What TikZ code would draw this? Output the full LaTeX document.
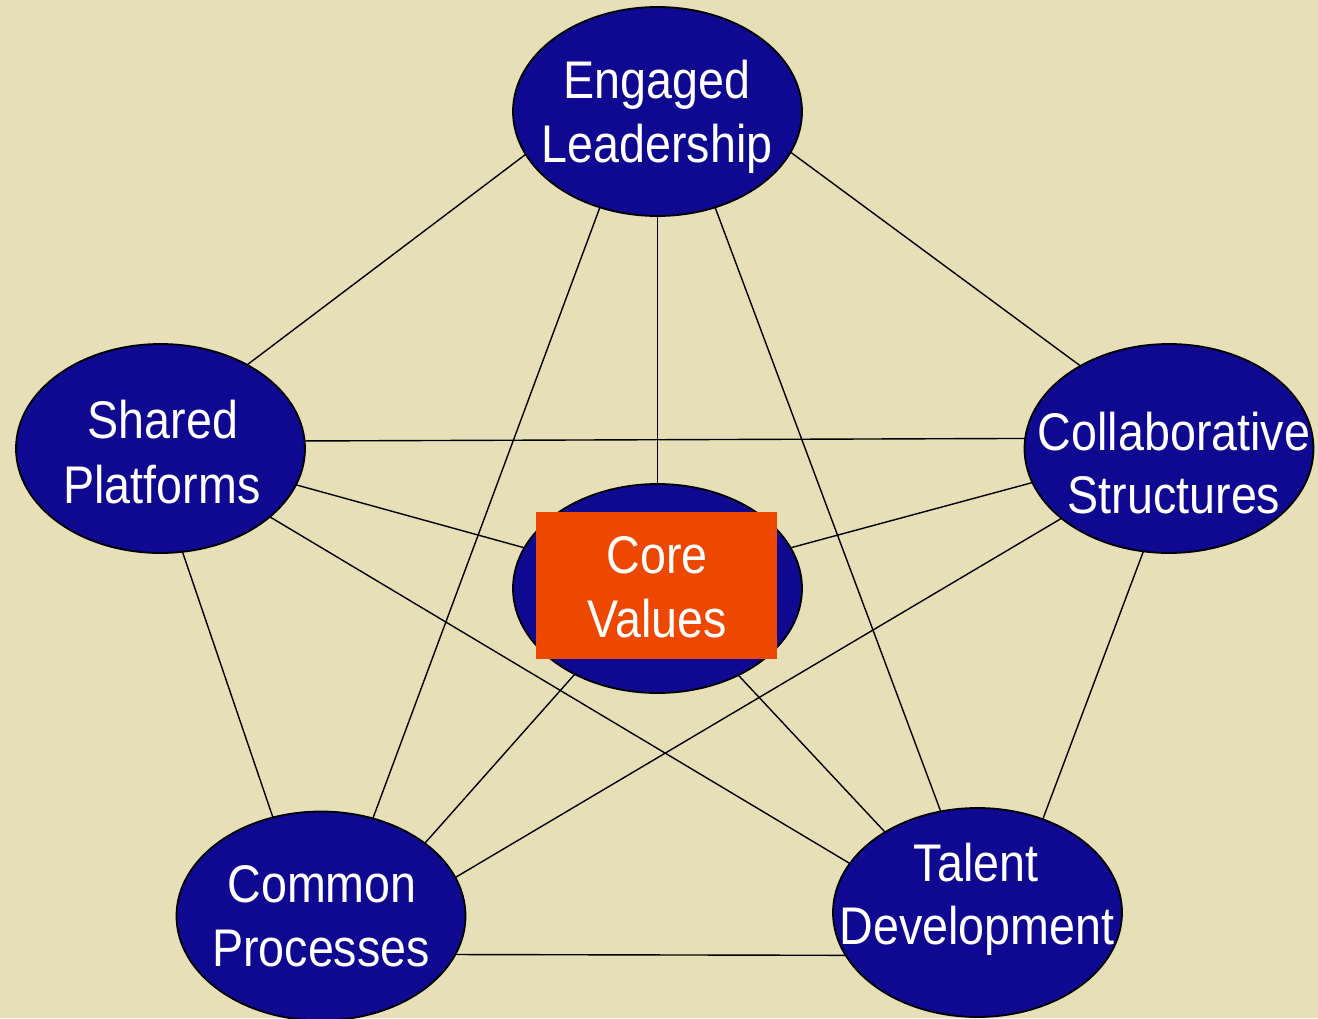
\documentclass[tikz,border=0pt]{standalone}
\usepackage{fontspec}
\newfontfamily\narfont[FakeStretch=0.88]{Liberation Sans}
\usetikzlibrary{shapes.geometric}
\definecolor{bgbeige}{HTML}{E7DFB8}
\definecolor{navyfill}{HTML}{0F0890}
\definecolor{coreorange}{HTML}{EE4800}
\tikzset{
  oval/.style={ellipse, draw=black, line width=1.8pt, fill=navyfill,
    minimum width=289pt, minimum height=209pt, inner sep=0pt, outer sep=0pt},
  lbl/.style={anchor=base, text=white, inner sep=0pt,
    font=\narfont\fontsize{53}{64}\selectfont},
  link/.style={draw=black, line width=1.4pt},
  corebox/.style={fill=coreorange, draw=none, inner sep=0pt,
    minimum width=241pt, minimum height=147pt}
}
\begin{document}
\begin{tikzpicture}[x=1pt,y=-1pt]
\fill[bgbeige] (0,0) rectangle (1318,1018);
\useasboundingbox (0,0) rectangle (1318,1018);

\node[oval] (el) at (657.5,111.5) {};
\node[oval] (sp) at (160.5,448.5) {};
\node[oval] (cs) at (1169,448.5) {};
\node[oval] (cv) at (657.5,588.5) {};
\node[oval] (cp) at (321,916) {};
\node[oval] (td) at (977.5,912.5) {};

% connectors
\draw[link] (el.198) -- (sp.44);
\draw[link] (el.343) -- (cs.137);
\draw[link] (el.270) -- (cv.90);
\draw[link] (el.239) -- (cp.62);
\draw[link] (el.301) -- (td.110);
\draw[link] (sp.3.2) -- (cs.176.8);
\draw[link] (sp.-15) -- (cv.163);
\draw[link] (cs.194) -- (cv.17);
\draw[link] (sp.282) -- (cp.116);
\draw[link] (sp.-32) -- (td.159);
\draw[link] (cs.213) -- (cp.16);
\draw[link] (cs.256) -- (td.55);
\draw[link] (cv.226) -- (cp.35.5);
\draw[link] (cv.313.6) -- (td.139);
\draw[link] (cp.-16) -- (td.198);

% core box
\node[corebox] (box) at (656.5,585.5) {};

% labels
\node[lbl] (el1) at (657,98) {Engaged};
\node[lbl] (el2) at (657,162) {Leadership};
\node[lbl] (sp1) at (163,438) {Shared};
\node[lbl] (sp2) at (162,503) {Platforms};
\node[lbl] (cs1) at (1174,450) {Collaborative};
\node[lbl] (cs2) at (1174,513) {Structures};
\node[lbl] (cv1) at (657,573) {Core};
\node[lbl] (cv2) at (657,637) {Values};
\node[lbl] (cp1) at (322,902) {Common};
\node[lbl] (cp2) at (321,966) {Processes};
\node[lbl] (td1) at (976,881) {Talent};
\node[lbl] (td2) at (977,944) {Development};
\end{tikzpicture}
\end{document}
